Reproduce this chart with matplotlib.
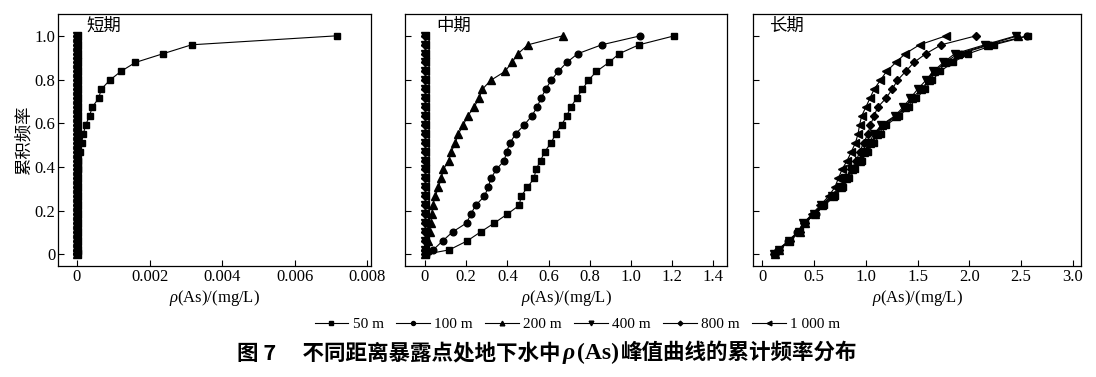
import matplotlib
matplotlib.use("Agg")
import matplotlib.pyplot as plt

# cumulative frequency (shared y values for every curve)
freq = [0, 0.020, 0.061, 0.102, 0.143, 0.184, 0.224, 0.265, 0.306, 0.347,
        0.388, 0.429, 0.469, 0.510, 0.551, 0.592, 0.633, 0.673, 0.714, 0.755,
        0.796, 0.837, 0.878, 0.918, 0.959, 1.0]

labels = ["50 m", "100 m", "200 m", "400 m", "800 m", "1 000 m"]
markers = ["s", "o", "^", "v", "D", "<"]
msizes = [4.2, 4.8, 5.6, 5.6, 4.0, 5.6]

# short term
st_50 = [0, 0, 0, 0, 0, 0, 0, 0, 0, 0, 0.00002, 0.00004, 0.00008, 0.00013,
         0.00018, 0.00024, 0.00035, 0.00042, 0.00060, 0.00067, 0.00090,
         0.00121, 0.00161, 0.00237, 0.00316, 0.00715]
st_100 = [0] * 26
st_200 = [0] * 26
st_400 = [0] * 26
st_800 = [0] * 26
st_1000 = [0] * 26

# middle term
mt_50 = [0.005, 0.118, 0.205, 0.270, 0.337, 0.400, 0.458, 0.466, 0.497, 0.529,
         0.539, 0.561, 0.581, 0.612, 0.634, 0.663, 0.688, 0.707, 0.736, 0.764,
         0.793, 0.832, 0.893, 0.942, 1.039, 1.21]
mt_100 = [0.003, 0.040, 0.086, 0.134, 0.202, 0.223, 0.246, 0.288, 0.307, 0.320,
          0.346, 0.385, 0.396, 0.413, 0.440, 0.482, 0.518, 0.544, 0.563, 0.586,
          0.612, 0.647, 0.688, 0.741, 0.858, 1.045]
mt_200 = [0, 0.008, 0.015, 0.022, 0.028, 0.033, 0.037, 0.050, 0.065, 0.079,
          0.089, 0.115, 0.128, 0.147, 0.162, 0.186, 0.207, 0.238, 0.262, 0.278,
          0.319, 0.388, 0.422, 0.451, 0.500, 0.668]
mt_400 = [0.002] * 26
mt_800 = [0.002] * 26
mt_1000 = [0.002] * 26

# long term
lt_50 = [0.12, 0.16, 0.26, 0.35, 0.41, 0.51, 0.60, 0.70, 0.78, 0.84, 0.90, 0.96,
         1.02, 1.08, 1.15, 1.20, 1.32, 1.42, 1.49, 1.57, 1.64, 1.72, 1.84, 1.99,
         2.24, 2.57]
lt_100 = [0.11, 0.15, 0.25, 0.34, 0.40, 0.52, 0.59, 0.69, 0.77, 0.83, 0.89, 0.95,
          1.00, 1.06, 1.13, 1.18, 1.30, 1.40, 1.47, 1.55, 1.62, 1.68, 1.80, 1.92,
          2.20, 2.56]
lt_200 = [0.12, 0.16, 0.26, 0.36, 0.41, 0.51, 0.58, 0.68, 0.76, 0.81, 0.87, 0.94,
          0.98, 1.04, 1.11, 1.16, 1.29, 1.38, 1.45, 1.53, 1.61, 1.66, 1.77, 1.89,
          2.18, 2.47]
lt_400 = [0.11, 0.16, 0.26, 0.35, 0.39, 0.50, 0.57, 0.67, 0.75, 0.80, 0.86, 0.93,
          0.99, 1.03, 1.08, 1.15, 1.28, 1.36, 1.43, 1.50, 1.58, 1.65, 1.75, 1.86,
          2.15, 2.45]
lt_800 = [0.12, 0.16, 0.27, 0.36, 0.41, 0.49, 0.57, 0.66, 0.74, 0.81, 0.86, 0.91,
          0.94, 0.98, 1.02, 1.045, 1.08, 1.115, 1.195, 1.255, 1.305, 1.385, 1.465,
          1.58, 1.73, 2.065]
lt_1000 = [0.11, 0.15, 0.26, 0.35, 0.40, 0.48, 0.56, 0.64, 0.70, 0.735, 0.77, 0.82,
           0.86, 0.90, 0.925, 0.94, 0.96, 1.00, 1.04, 1.08, 1.14, 1.20, 1.29, 1.38,
           1.52, 1.775]

panels = ["短期", "中期", "长期"]
xticks = [[0, 0.002, 0.004, 0.006, 0.008],
          [0, 0.2, 0.4, 0.6, 0.8, 1.0, 1.2, 1.4],
          [0, 0.5, 1.0, 1.5, 2.0, 2.5, 3.0]]
xticklabels = [["0", "0.002", "0.004", "0.006", "0.008"],
               ["0", "0.2", "0.4", "0.6", "0.8", "1.0", "1.2", "1.4"],
               ["0", "0.5", "1.0", "1.5", "2.0", "2.5", "3.0"]]
yticks = [0, 0.2, 0.4, 0.6, 0.8, 1.0]
yticklabels = ["0", "0.2", "0.4", "0.6", "0.8", "1.0"]

caption = [("图 7\u3000 不同距离暴露点处地下水中", "cjk", "normal"),
           ("ρ", "serif", "italic"),
           ("(As)", "serif", "normal"),
           ("峰值曲线的累计频率分布", "cjk", "normal")]


def main():
    plt.rcParams["font.family"] = ["Liberation Serif", "DejaVu Serif"]
    plt.rcParams["mathtext.fontset"] = "custom"
    plt.rcParams["mathtext.rm"] = "Liberation Serif"
    plt.rcParams["mathtext.it"] = "Liberation Serif:italic"

    data = [[st_50, st_100, st_200, st_400, st_800, st_1000],
            [mt_50, mt_100, mt_200, mt_400, mt_800, mt_1000],
            [lt_50, lt_100, lt_200, lt_400, lt_800, lt_1000]]
    xlims = [(-0.00052, 0.0081), (-0.097, 1.466), (-0.09, 3.08)]
    # axes boxes in pixels: left, width
    boxes = [(58, 313), (405, 322), (753, 328)]
    title_x = [0.09, 0.096, 0.05]

    W, H = 1096, 377
    fig = plt.figure(figsize=(W / 100, H / 100), dpi=100)
    cjk = ["Noto Sans CJK SC", "DejaVu Sans"]

    for i in range(3):
        left, width = boxes[i]
        ax = fig.add_axes([left / W, (H - 266) / H, width / W, 252 / H])
        for j in range(6):
            ax.plot(data[i][j], freq, color="black", lw=0.8, marker=markers[j],
                    ms=msizes[j], mfc="black", mec="black", label=labels[j])
        ax.set_xlim(*xlims[i])
        ax.set_ylim(-0.054, 1.10)
        ax.set_xticks(xticks[i])
        ax.set_xticklabels(xticklabels[i])
        ax.set_yticks(yticks)
        if i == 0:
            ax.set_yticklabels(yticklabels)
            ax.set_ylabel("累积频率", family=cjk, fontsize=12.5, labelpad=1)
        else:
            ax.set_yticklabels([])
        ax.tick_params(direction="in", length=4, width=0.8, labelsize=12, pad=2)
        ax.set_xlabel(r"$\rho$(As)/(mg/L)", fontsize=12, labelpad=2)
        ax.text(title_x[i], 0.99, panels[i], transform=ax.transAxes,
                family=cjk, fontsize=12.5, va="top", ha="left")
        for s in ax.spines.values():
            s.set_linewidth(0.9)
        if i == 0:
            handles, labs = ax.get_legend_handles_labels()

    fig.legend(handles, labs, loc="center", bbox_to_anchor=(0.527, 1 - 324 / H),
               ncol=6, frameon=False, fontsize=11, handlelength=2.2,
               handletextpad=0.3, columnspacing=0.8, markerscale=0.6)

    # caption built from pieces so that rho(As) can use a bold serif face
    renderer = fig.canvas.get_renderer()
    pieces = []
    for txt, fam, style in caption:
        family = cjk if fam == "cjk" else ["Liberation Serif"]
        t = fig.text(0, 0, txt, family=family, style=style,
                     fontweight="bold", fontsize=15.5 if fam == "cjk" else 17,
                     ha="left", va="baseline")
        pieces.append(t)
    widths = [p.get_window_extent(renderer).width for p in pieces]
    x = 547 - (sum(widths) + 2 * (len(widths) - 1)) / 2
    for p, w in zip(pieces, widths):
        p.set_x(x / W)
        p.set_y(1 - 359 / H)
        x += w + 2

    plt.savefig("out.png", dpi=100)


if __name__ == "__main__":
    main()
